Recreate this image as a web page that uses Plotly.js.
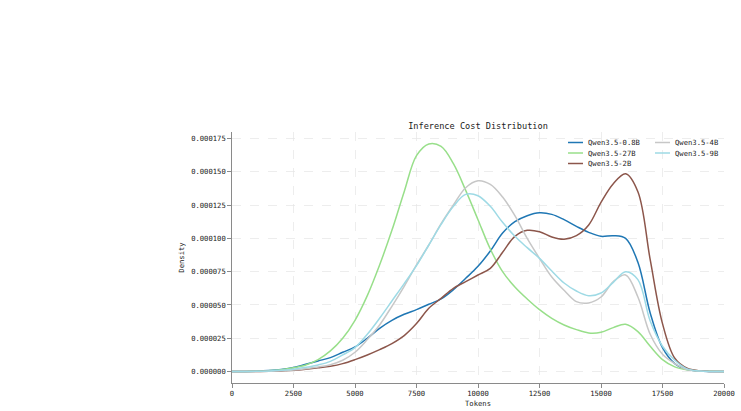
<!DOCTYPE html>
<html><head><meta charset="utf-8">
<script src="https://cdn.plot.ly/plotly-3.0.1.min.js"></script>
<style>html,body{margin:0;padding:0;background:#fff}#chart{width:741px;height:411px}</style>
</head><body><div id="chart"></div>
<script>
const tokens = [0,500,1000,1500,2000,2500,3000,3500,4000,4500,5000,5500,6000,6500,7000,7500,8000,8500,9000,9500,10000,10500,11000,11500,12000,12500,13000,13500,14000,14500,15000,15500,16000,16500,17000,17500,18000,18500,19000,19500,20000];

const q08b = [0e-6,0.1e-6,0.3e-6,0.8e-6,1.6e-6,3e-6,5.5e-6,8e-6,10.5e-6,14.5e-6,18.5e-6,25e-6,32.5e-6,38.5e-6,43e-6,46.5e-6,50.5e-6,54.5e-6,61.5e-6,70e-6,79e-6,90.5e-6,104e-6,112.5e-6,117e-6,119.2e-6,118e-6,114e-6,109e-6,104.5e-6,101.5e-6,102e-6,100e-6,82e-6,44e-6,18e-6,6e-6,1.5e-6,0.4e-6,0.1e-6,0e-6];
const q27b = [0e-6,0.1e-6,0.3e-6,0.7e-6,1.4e-6,2.8e-6,5e-6,9e-6,15.5e-6,25e-6,38.5e-6,57e-6,80e-6,106e-6,135e-6,162e-6,170.8e-6,169e-6,156e-6,136e-6,114e-6,92e-6,75e-6,63.5e-6,54.5e-6,46.5e-6,40e-6,35e-6,31.5e-6,29e-6,29.5e-6,33e-6,35.5e-6,30e-6,19e-6,9e-6,3.5e-6,1.3e-6,0.5e-6,0.2e-6,0.1e-6];
const q2b = [0e-6,0e-6,0.1e-6,0.2e-6,0.5e-6,1e-6,1.8e-6,2.8e-6,4e-6,6e-6,9e-6,12.5e-6,16.5e-6,21e-6,27e-6,36e-6,47.5e-6,55e-6,62.5e-6,67.5e-6,72.5e-6,77.5e-6,89.5e-6,101.5e-6,106e-6,105e-6,101e-6,99.3e-6,102e-6,110e-6,127e-6,141e-6,148.5e-6,135e-6,84e-6,36e-6,10e-6,2.5e-6,0.6e-6,0.1e-6,0e-6];
const q4b = [0e-6,0e-6,0.1e-6,0.3e-6,0.6e-6,1.2e-6,2.2e-6,3.5e-6,5.2e-6,8.5e-6,14.5e-6,24e-6,35e-6,49e-6,64e-6,80e-6,95e-6,111e-6,125e-6,138e-6,143.2e-6,140.5e-6,131e-6,117e-6,100e-6,85e-6,71e-6,61e-6,52.5e-6,51.5e-6,56e-6,67.5e-6,72.5e-6,56e-6,28e-6,13e-6,6e-6,1.5e-6,0.4e-6,0.1e-6,0e-6];
const q9b = [0e-6,0.1e-6,0.2e-6,0.5e-6,1e-6,1.8e-6,3.2e-6,5e-6,7.7e-6,12.5e-6,18e-6,28e-6,40e-6,53e-6,66e-6,79.5e-6,95e-6,110.5e-6,124e-6,133e-6,132e-6,124e-6,112e-6,101.5e-6,93e-6,85e-6,75.5e-6,66.5e-6,60.5e-6,57e-6,59e-6,67e-6,75e-6,69e-6,38e-6,19e-6,8.5e-6,2e-6,0.5e-6,0.1e-6,0e-6];

const seriesNames = ['Qwen3.5-0.8B','Qwen3.5-27B','Qwen3.5-2B','Qwen3.5-4B','Qwen3.5-9B'];
const seriesValues = [q08b,q27b,q2b,q4b,q9b];
const seriesColors = ['#1f77b4','#98df8a','#8c564b','#c7c7c7','#9edae5'];

const xTickVals = [0,2500,5000,7500,10000,12500,15000,17500,20000];
const xTickText = ['0','2500','5000','7500','10000','12500','15000','17500','20000'];
const yTickVals = [0,25e-6,50e-6,75e-6,100e-6,125e-6,150e-6,175e-6];

const W = 741, H = 411;
const M = {l:232, r:17, t:132, b:28};
const plotW = W - M.l - M.r, plotH = H - M.t - M.b;
const FONT = 'DejaVu Sans Mono';

const traces = seriesNames.map((n,i)=>({
  type:'scatter', mode:'lines', name:n, x:tokens, y:seriesValues[i],
  line:{color:seriesColors[i], width:1.5, shape:'spline', smoothing:1},
  hoverinfo:'skip', showlegend:false
}));

// legend drawn as matplotlib-style 2-column box (column-first fill)
const legCfg = {colX:[568,655], row0:142.5, rowDy:10.5, lineLen:15, gap:4, rows:3};
const px2x = px => (px - M.l) / plotW;
const py2y = py => (H - M.b - py) / plotH;
const shapes = [], annotations = [];
seriesNames.forEach((n,i)=>{
  const col = Math.floor(i / legCfg.rows), row = i % legCfg.rows;
  const x0 = legCfg.colX[col], y = legCfg.row0 + row * legCfg.rowDy;
  shapes.push({type:'line', xref:'paper', yref:'paper', x0:px2x(x0), x1:px2x(x0+legCfg.lineLen),
               y0:py2y(y), y1:py2y(y), line:{color:seriesColors[i], width:1.5}});
  annotations.push({xref:'paper', yref:'paper', x:px2x(x0+legCfg.lineLen+legCfg.gap), y:py2y(y),
               xanchor:'left', yanchor:'middle', showarrow:false, text:n, borderpad:0,
               font:{family:FONT, size:7.2, color:'#222'}});
});

const axisCommon = {
  showline:true, linecolor:'#8a8a8a', linewidth:1.3, mirror:false,
  ticks:'outside', ticklen:3.5, tickwidth:1, tickcolor:'#8a8a8a',
  showgrid:true, gridcolor:'#e6e6e6', gridwidth:0.7, griddash:'dash',
  zeroline:false, automargin:false,
  tickfont:{family:FONT, size:7.2, color:'#222'}
};

const layout = {
  width:W, height:H,
  margin:M,
  paper_bgcolor:'#fff', plot_bgcolor:'#fff',
  font:{family:FONT, size:7.2, color:'#222'},
  title:{text:'Inference Cost Distribution', font:{family:FONT, size:8.6, color:'#222'},
         x:0.5, xref:'paper', xanchor:'center', y:1, yref:'paper', yanchor:'bottom', pad:{b:3}},
  xaxis:Object.assign({}, axisCommon, {range:[0,20000], tickmode:'array', tickvals:xTickVals, ticktext:xTickText,
         title:{text:'Tokens', standoff:3, font:{family:FONT, size:7.2, color:'#222'}}}),
  yaxis:Object.assign({}, axisCommon, {range:[-8.56e-6,179.8e-6], tickmode:'array', tickvals:yTickVals, tickformat:'.6f',
         title:{text:'Density', standoff:5, font:{family:FONT, size:7.2, color:'#222'}}}),
  showlegend:false,
  shapes:shapes,
  annotations:annotations
};

Plotly.newPlot('chart', traces, layout, {displayModeBar:false, staticPlot:true});
</script>
</body></html>
